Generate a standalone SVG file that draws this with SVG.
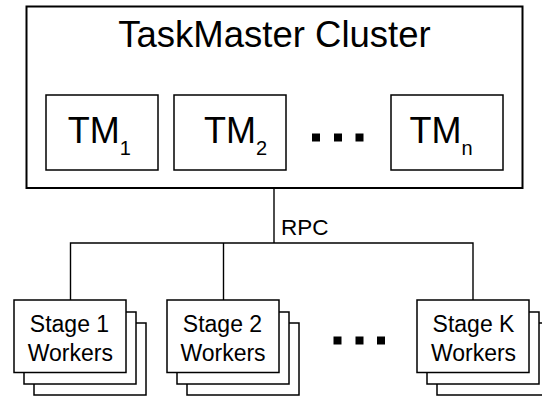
<svg xmlns="http://www.w3.org/2000/svg" width="542" height="396" viewBox="0 0 542 396">
  <defs>
    <style>
      .box { fill: #fff; stroke: #000; stroke-width: 1.5; }
      .outer { fill: #fff; stroke: #000; stroke-width: 2; }
      .wire { fill: none; stroke: #000; stroke-width: 1.4; }
      .t { font-family: "Liberation Sans", Arial, sans-serif; fill: #000; }
      .tm { font-size: 36px; }
      .sub { font-size: 20px; }
      .stage { font-size: 23px; text-anchor: middle; }
      .dot { fill: #000; }
    </style>
    <!-- one stacked worker card: two shadow sheets behind the front sheet -->
    <g id="stack">
      <rect class="box" x="20" y="23" width="112" height="72"/>
      <rect class="box" x="10" y="12" width="112" height="72"/>
      <rect class="box" x="0" y="0" width="112" height="72.5"/>
    </g>
  </defs>

  <rect width="542" height="396" fill="#fff"/>

  <g id="cluster">
    <rect class="outer" x="26.5" y="6.5" width="496" height="181.5"/>
    <text class="t" x="274.5" y="46.7" font-size="36.5" text-anchor="middle">TaskMaster Cluster</text>
  </g>

  <g id="tm1">
    <rect class="box" x="46" y="95" width="112" height="75"/>
    <text class="t tm" x="67.7" y="143.3">TM<tspan class="sub" dy="11.7">1</tspan></text>
  </g>
  <g id="tm2">
    <rect class="box" x="174" y="95" width="112" height="75"/>
    <text class="t tm" x="204" y="143.3">TM<tspan class="sub" dy="11.7">2</tspan></text>
  </g>
  <g id="tm-ellipsis">
    <rect class="dot" x="312" y="133.5" width="8" height="8"/>
    <rect class="dot" x="334" y="133.5" width="8" height="8"/>
    <rect class="dot" x="355.5" y="133.5" width="8" height="8"/>
  </g>
  <g id="tmn">
    <rect class="box" x="391" y="95" width="112" height="75"/>
    <text class="t tm" x="409.6" y="143.3">TM<tspan class="sub" dy="11.7">n</tspan></text>
  </g>

  <g id="connectors">
    <path class="wire" d="M274,188 V243"/>
    <path class="wire" d="M70.5,300 V243 H473 V300"/>
    <path class="wire" d="M223.5,243 V300"/>
    <text class="t" x="281" y="235" font-size="22.5">RPC</text>
  </g>

  <g id="stage1">
    <use href="#stack" x="14" y="300"/>
    <text class="t stage" x="69.5" y="331.7">Stage 1</text>
    <text class="t stage" x="70.3" y="360.7">Workers</text>
  </g>
  <g id="stage2">
    <use href="#stack" x="167" y="300"/>
    <text class="t stage" x="222.5" y="331.7">Stage 2</text>
    <text class="t stage" x="223" y="360.7">Workers</text>
  </g>
  <g id="stage-ellipsis">
    <rect class="dot" x="333.5" y="336.5" width="8" height="8"/>
    <rect class="dot" x="355.5" y="336.5" width="8" height="8"/>
    <rect class="dot" x="377" y="336.5" width="8" height="8"/>
  </g>
  <g id="stagek">
    <use href="#stack" x="417" y="300"/>
    <text class="t stage" x="473.5" y="331.7">Stage K</text>
    <text class="t stage" x="473.5" y="360.7">Workers</text>
  </g>
</svg>
